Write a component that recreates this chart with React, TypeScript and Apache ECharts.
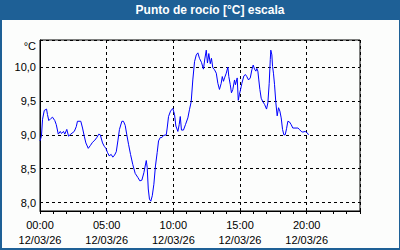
import { useEffect, useRef } from "react";
import * as echarts from "echarts";

const chartTitle = "Punto de rocío [°C] escala";
const unitLabel = "°C";
const dateLabel = "12/03/26";

// time of day in hours
const hours = [
  0, 0.11, 0.19, 0.32, 0.49, 0.56, 0.66, 0.81, 0.94, 1.11, 1.22, 1.37, 1.52, 1.61, 1.76, 1.86,
  2.01, 2.14, 2.31, 2.57, 2.72, 2.81, 3.06, 3.19, 3.32, 3.44, 3.62, 3.77, 3.94, 4.11, 4.26, 4.41,
  4.52, 4.69, 4.82, 4.94, 5.06, 5.19, 5.34, 5.46, 5.59, 5.72, 5.84, 5.96, 6.14, 6.26, 6.39, 6.51,
  6.64, 6.79, 6.96, 7.14, 7.34, 7.49, 7.64, 7.79, 7.97, 8.04, 8.12, 8.21, 8.31, 8.42, 8.54, 8.66,
  8.79, 8.89, 9.02, 9.14, 9.26, 9.47, 9.54, 9.64, 9.79, 9.96, 10.09, 10.19, 10.34, 10.44, 10.52,
  10.61, 10.76, 10.91, 11.09, 11.21, 11.34, 11.46, 11.59, 11.72, 11.84, 11.96, 12.11, 12.26, 12.36,
  12.47, 12.56, 12.66, 12.77, 12.86, 12.96, 13.09, 13.22, 13.34, 13.46, 13.59, 13.67, 13.76, 13.84,
  13.97, 14.09, 14.16, 14.27, 14.36, 14.46, 14.59, 14.66, 14.79, 14.87, 14.96, 15.09, 15.14, 15.29,
  15.41, 15.51, 15.64, 15.77, 15.89, 15.99, 16.09, 16.19, 16.26, 16.34, 16.41, 16.49, 16.59, 16.71,
  16.84, 16.99, 17.09, 17.19, 17.27, 17.31, 17.39, 17.44, 17.51, 17.59, 17.69, 17.79, 17.89, 17.99,
  18.09, 18.19, 18.29, 18.39, 18.49, 18.59, 18.71, 18.84, 18.96, 19.34, 19.46, 19.59, 19.71, 19.89,
  20.04, 20.14,
];

// dew point in °C
const dewPoint = [
  8.91, 8.98, 9.23, 9.36, 9.38, 9.3, 9.21, 9.24, 9.26, 9.21, 9.15, 9.01, 9.05, 9.02, 9.05, 9.01,
  9.08, 8.98, 9.01, 9.05, 9.12, 9.2, 9.2, 9.1, 8.98, 8.88, 8.8, 8.84, 8.89, 8.92, 8.96, 9.01,
  9.0, 8.88, 8.83, 8.8, 8.74, 8.69, 8.71, 8.67, 8.7, 8.75, 8.91, 9.08, 9.2, 9.2, 9.14, 9.0,
  8.86, 8.71, 8.56, 8.43, 8.37, 8.32, 8.33, 8.44, 8.62, 8.52, 8.2, 8.05, 8.02, 8.1, 8.27, 8.54,
  8.74, 8.91, 8.96, 8.96, 8.99, 9.0, 9.1, 9.27, 9.35, 9.39, 9.3, 9.13, 9.05, 9.15, 9.27,
  9.07, 9.07, 9.15, 9.25, 9.37, 9.49, 9.81, 10.08, 10.18, 10.21, 10.13, 10.07, 9.97, 10.12,
  10.25, 10.06, 10.2, 10.05, 10.13, 9.99, 9.96, 9.91, 9.76, 9.67, 9.76, 9.86, 9.79, 9.84,
  9.91, 10.0, 9.86, 9.74, 9.62, 9.67, 9.81, 9.74, 9.84, 9.51, 9.6, 9.71, 9.76, 9.87,
  9.89, 9.86, 9.81, 9.84, 9.96, 10.03, 9.97, 9.94, 9.98, 9.94, 9.81, 9.67, 9.54, 9.49,
  9.45, 9.38, 9.47, 9.76, 10.11, 10.25, 10.18, 10.01, 9.91, 9.74, 9.47, 9.28, 9.4, 9.35,
  9.25, 9.08, 9.0, 9.0, 9.09, 9.2, 9.19, 9.15, 9.1, 9.1, 9.08, 9.05, 9.04, 9.05,
  9.03, 9.0,
];

const FONT = "'Liberation Sans', Arial, sans-serif";
const FRAME = "#1e6096";

export default function App() {
  const ref = useRef<HTMLDivElement>(null);

  useEffect(() => {
    if (!ref.current) return;
    const chart = echarts.init(ref.current, null, { renderer: "svg" });
    chart.setOption({
      animation: false,
      backgroundColor: "#fcfdfc",
      grid: {
        left: 40,
        top: 40,
        width: 320,
        height: 171,
        show: true,
        borderColor: "#000",
        borderWidth: 1,
        backgroundColor: "transparent",
        containLabel: false,
        outerBoundsMode: "none",
      },
      xAxis: [
        {
          type: "value",
          min: 0,
          max: 24,
          splitNumber: 5,
          minInterval: 5,
          maxInterval: 5,
          position: "bottom",
          axisLine: { show: false, onZero: false },
          axisTick: { show: false },
          axisLabel: {
            showMaxLabel: false,
            showMinLabel: true,
            hideOverlap: false,
            margin: 6,
            color: "#000",
            fontFamily: FONT,
            fontSize: 11,
            lineHeight: 15,
            formatter: (v: number) => `${String(v).padStart(2, "0")}:00\n${dateLabel}`,
          },
          splitLine: { show: true, lineStyle: { color: "#000", type: [3, 3], width: 1 } },
        },
        {
          type: "value",
          min: 0,
          max: 24,
          splitNumber: 24,
          minInterval: 1,
          maxInterval: 1,
          position: "bottom",
          axisLine: { show: true, onZero: false, lineStyle: { color: "#000", width: 1 } },
          axisTick: { show: true, length: 3, lineStyle: { color: "#000", width: 1 } },
          axisLabel: { show: false },
          splitLine: { show: false },
        },
      ],
      yAxis: {
        type: "value",
        min: 7.875,
        max: 10.4,
        splitNumber: 5,
        minInterval: 0.5,
        maxInterval: 0.5,
        axisLine: { show: true, onZero: false, lineStyle: { color: "#000", width: 1 } },
        axisTick: { show: false },
        axisLabel: {
          showMinLabel: false,
          showMaxLabel: false,
          margin: 4,
          color: "#000",
          fontFamily: FONT,
          fontSize: 11,
          formatter: (v: number) => v.toFixed(1).replace(".", ","),
        },
        splitLine: { show: true, lineStyle: { color: "#000", type: [3, 3], width: 1 } },
      },
      series: [
        {
          type: "line",
          xAxisIndex: 0,
          data: hours.map((h, i) => [h, dewPoint[i]]),
          showSymbol: false,
          symbol: "none",
          lineStyle: { color: "#0000ff", width: 1 },
          z: 5,
        },
      ],
      graphic: [
        { type: "rect", shape: { x: 0, y: 0, width: 400, height: 20 }, style: { fill: FRAME }, silent: true },
        { type: "rect", shape: { x: 0, y: 0, width: 2, height: 250 }, style: { fill: FRAME }, silent: true },
        { type: "rect", shape: { x: 399, y: 0, width: 1, height: 250 }, style: { fill: FRAME }, silent: true },
        { type: "rect", shape: { x: 0, y: 248, width: 400, height: 2 }, style: { fill: FRAME }, silent: true },
        {
          type: "text",
          x: 210,
          y: 10,
          style: {
            text: chartTitle,
            fill: "#fff",
            font: `bold 12px ${FONT}`,
            textAlign: "center",
            textVerticalAlign: "middle",
          },
          silent: true,
        },
        {
          type: "text",
          x: 36,
          y: 46,
          style: {
            text: unitLabel,
            fill: "#000",
            font: `11px ${FONT}`,
            textAlign: "right",
            textVerticalAlign: "middle",
          },
          silent: true,
        },
      ],
    });
    return () => chart.dispose();
  }, []);

  return (
    <div
      ref={ref}
      style={{ position: "fixed", left: 0, top: 0, width: 400, height: 250 }}
    />
  );
}
